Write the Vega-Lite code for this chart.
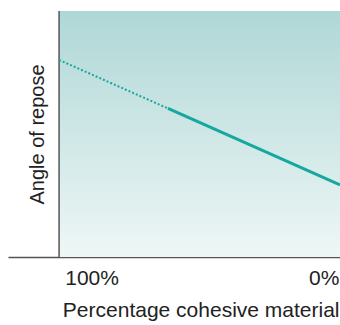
{
  "$schema": "https://vega.github.io/schema/vega-lite/v6.json",
  "width": 332,
  "height": 246,
  "autosize": "none",
  "padding": {"left": 8, "top": 11, "right": 0, "bottom": 68},
  "background": "white",
  "config": {
    "view": {"stroke": null},
    "font": "Liberation Sans",
    "axis": {"grid": false, "ticks": false, "domainColor": "#555555", "domainWidth": 1.5, "zindex": 1}
  },
  "datasets": {
    "bg": [{"x1": 114, "x2": -7, "y1": 0, "y2": 100}],
    "yaxis": [{"x": 114, "y1": 0, "y2": 100}],
    "line": [
      {"pct": 114, "angle": 80.1, "seg": "dotted"},
      {"pct": 67.1, "angle": 60.4, "seg": "dotted"},
      {"pct": 67.1, "angle": 60.4, "seg": "solid"},
      {"pct": -7, "angle": 29.3, "seg": "solid"}
    ]
  },
  "layer": [
    {
      "data": {"name": "bg"},
      "mark": {
        "type": "rect",
        "fill": {
          "gradient": "linear", "x1": 0, "y1": 0, "x2": 0, "y2": 1,
          "stops": [{"offset": 0, "color": "#afd7d6"}, {"offset": 1, "color": "#eef7f6"}]
        }
      },
      "encoding": {
        "x": {
          "field": "x1", "type": "quantitative",
          "scale": {"domain": [-7, 136], "reverse": true, "nice": false, "zero": false},
          "axis": {
            "values": [100, 0],
            "labelExpr": "datum.value + '%'",
            "labelFontSize": 21,
            "labelColor": "#222222",
            "labelPadding": 10,
            "labelFlush": false,
            "title": "Percentage cohesive material",
            "titleFontSize": 21,
            "titleFontWeight": "normal",
            "titleColor": "#222222",
            "titlePadding": 11,
            "titleX": 331,
            "titleAlign": "right",
            "titleAnchor": "end"
          }
        },
        "x2": {"field": "x2"},
        "y": {
          "field": "y1", "type": "quantitative",
          "scale": {"domain": [0, 100], "nice": false},
          "axis": {
            "offset": -51,
            "domain": false,
            "labels": false,
            "title": "Angle of repose",
            "titleFontSize": 20,
            "titleFontWeight": "normal",
            "titleColor": "#222222",
            "titlePadding": 12
          }
        },
        "y2": {"field": "y2"}
      }
    },
    {
      "data": {"name": "yaxis"},
      "mark": {"type": "rule", "color": "#555555", "strokeWidth": 1.5},
      "encoding": {
        "x": {"field": "x", "type": "quantitative"},
        "y": {"field": "y1", "type": "quantitative"},
        "y2": {"field": "y2"}
      }
    },
    {
      "data": {"name": "line"},
      "transform": [{"filter": "datum.seg === 'dotted'"}],
      "mark": {"type": "line", "color": "#14a89e", "strokeWidth": 2, "strokeDash": [2, 2]},
      "encoding": {
        "x": {"field": "pct", "type": "quantitative"},
        "y": {"field": "angle", "type": "quantitative"}
      }
    },
    {
      "data": {"name": "line"},
      "transform": [{"filter": "datum.seg === 'solid'"}],
      "mark": {"type": "line", "color": "#14a89e", "strokeWidth": 3},
      "encoding": {
        "x": {"field": "pct", "type": "quantitative"},
        "y": {"field": "angle", "type": "quantitative"}
      }
    }
  ]
}
